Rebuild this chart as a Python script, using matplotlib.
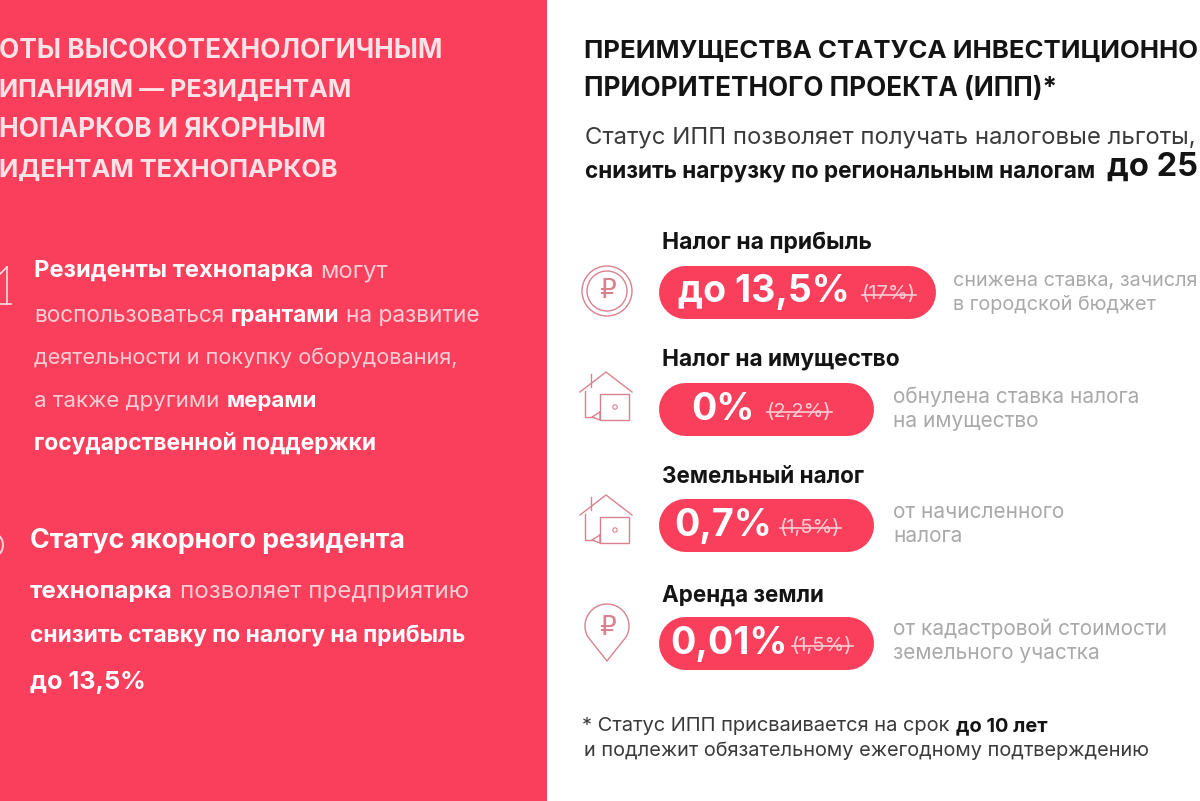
import matplotlib
matplotlib.use("Agg")
import matplotlib.pyplot as plt
from matplotlib.patches import Rectangle, Circle, Arc

RED = "#F93F5B"
PINK_ICON = "#D9818F"
DARK = "#141414"
GREY = "#A9A9A9"
SOFT = "#FBCDD4"

tax_names = ["Налог на прибыль", "Налог на имущество", "Земельный налог", "Аренда земли"]
tax_rates = ["до 13,5%", "0%", "0,7%", "0,01%"]
tax_old = ["(17%)", "(2,2%)", "(1,5%)", "(1,5%)"]
tax_notes = [["снижена ставка, зачисля", "в городской бюджет"],
             ["обнулена ставка налога", "на имущество"],
             ["от начисленного", "налога"],
             ["от кадастровой стоимости", "земельного участка"]]

left_head = ["ОТЫ ВЫСОКОТЕХНОЛОГИЧНЫМ", "ИПАНИЯМ — РЕЗИДЕНТАМ", "НОПАРКОВ И ЯКОРНЫМ", "ИДЕНТАМ ТЕХНОПАРКОВ"]
left_head_y = [49, 88, 128, 168]
left_head_end = [441, 351, 326, 338]

block1 = [[("Резиденты технопарка", True), ("могут", False)],
          [("воспользоваться", False), ("грантами", True), ("на развитие", False)],
          [("деятельности и покупку оборудования,", False)],
          [("а также другими", False), ("мерами", True)],
          [("государственной поддержки", True)]]
block1_y = [269, 314, 356, 399, 441]
block1_end = [388, 482, 459, 317, 377]

block2 = [[("Статус якорного резидента", True)],
          [("технопарка", True), ("позволяет предприятию", False)],
          [("снизить ставку по налогу на прибыль", True)],
          [("до 13,5%", True)]]
block2_y = [539, 590, 634, 681]
block2_end = [407, 470, 468, 146]

fig = plt.figure(figsize=(12, 8.01), dpi=100, facecolor="white")
ax = fig.add_axes([0, 0, 1, 1])
ax.set_xlim(0, 1200)
ax.set_ylim(801, 0)
ax.axis("off")
plt.rcParams["font.family"] = ["Inter", "DejaVu Sans"]
renderer = fig.canvas.get_renderer()


def width_of(t):
    return t.get_window_extent(renderer).width


def line(x, y, segs, size, x_end=None, c_bold="white", c_reg=SOFT):
    # lays out bold and regular pieces one after another, size fitted to x_end
    y = y + 2
    for attempt in range(2):
        arts = []
        cur = x
        for s, bold in segs:
            t = ax.text(cur, y, s, fontsize=size, fontweight="bold" if bold else "normal",
                        color=c_bold if bold else c_reg, va="center", ha="left")
            cur += width_of(t) + size * 0.42
            arts.append(t)
        end = cur - size * 0.42
        if attempt == 0 and x_end is not None:
            size = size * (x_end - x) / (end - x)
            for t in arts:
                t.remove()
        else:
            break
    return end


ax.add_patch(Rectangle((0, 0), 547, 801, color=RED, lw=0))

# left panel
for s, y, e in zip(left_head, left_head_y, left_head_end):
    line(-1, y, [(s, True)], 18, e, c_bold="#FDE3E7")
for segs, y, e in zip(block1, block1_y, block1_end):
    line(34, y, segs, 14, e)
for segs, y, e in zip(block2, block2_y, block2_end):
    line(30, y, segs, 14, e)

# cut off numbers at panel edge
ax.plot([7, 7], [267, 304], color="#FBDDE2", lw=1.2)
ax.plot([0, 11], [304, 304], color="#FBDDE2", lw=1.2)
ax.plot([0, 7], [274, 267], color="#FBDDE2", lw=1.2)
ax.add_patch(Arc((-6, 545), 18, 22, theta1=-60, theta2=60, color="#FBCDD4", lw=1.5))

# right panel heading
line(584, 49, [("ПРЕИМУЩЕСТВА СТАТУСА ИНВЕСТИЦИОННО", True)], 16, 1198, c_bold=DARK)
line(584, 87, [("ПРИОРИТЕТНОГО ПРОЕКТА (ИПП)*", True)], 16, 1058, c_bold=DARK)
line(585, 135, [("Статус ИПП позволяет получать налоговые льготы,", False)], 14, 1197, c_reg="#3A3A3A")
line(585, 169, [("снизить нагрузку по региональным налогам", True)], 14, 1098, c_bold=DARK)
ax.text(1107, 167, "до 25", fontsize=23.5, fontweight="bold", color=DARK, va="center", ha="left")

pill_x = [658, 658, 658, 658]
pill_w = [277, 215, 215, 215]
pill_y = [265, 382, 498, 616]
title_y = [241, 357, 475, 594]
title_end = [872, 900, 864, 824]
note_x = [953, 893, 893, 893]
note_y = [[280, 303], [396, 420], [511, 535], [628, 652]]
note_size = [14.3, 15, 15, 15]
rate_x = [678, 691, 674, 670]
rate_size = [27, 27, 27, 27]
old_x = [862, 767, 780, 792]
pill_h = 53

for i in range(4):
    line(662, title_y[i], [(tax_names[i], True)], 14.5, title_end[i], c_bold=DARK)
    mid = pill_y[i] + pill_h / 2
    # round caps give the pill shape, width in points
    ax.plot([pill_x[i] + pill_h / 2, pill_x[i] + pill_w[i] - pill_h / 2], [mid, mid],
            color=RED, lw=pill_h * 0.72, solid_capstyle="round")
    ax.text(rate_x[i], mid + 1, tax_rates[i], fontsize=rate_size[i], fontweight="bold", color="white", va="center")
    t = ax.text(old_x[i], mid + 3, tax_old[i], fontsize=14.5, color=SOFT, va="center")
    w = width_of(t)
    ax.plot([old_x[i], old_x[i] + w], [mid + 3, mid + 3], color=SOFT, lw=1.2)
    for s, y in zip(tax_notes[i], note_y[i]):
        ax.text(note_x[i], y + 1, s, fontsize=note_size[i], color=GREY, va="center")

# icons
ax.add_patch(Circle((607, 291), 25, fill=False, ec=PINK_ICON, lw=1))
ax.add_patch(Circle((607, 291), 20, fill=False, ec=PINK_ICON, lw=1))
ax.text(607, 291, "₽", family="DejaVu Sans", fontsize=19, color=PINK_ICON, ha="center", va="center")


def house(top):
    ax.plot([580, 606, 632], [top + 20, top, top + 20], color=PINK_ICON, lw=1)
    ax.plot([585, 585, 594], [top + 19, top + 45, top + 45], color=PINK_ICON, lw=1)
    ax.plot([591, 591], [top + 2, top + 15], color=PINK_ICON, lw=1)
    ax.add_patch(Rectangle((600, top + 22), 29, 26, fill=False, ec=PINK_ICON, lw=1))
    ax.plot([600, 592, 600, 600], [top + 40, top + 45, top + 48, top + 40], color=PINK_ICON, lw=1)
    ax.add_patch(Circle((615, top + 35), 2.2, fill=False, ec=PINK_ICON, lw=0.8))


house(372)
house(495)

# pin
ax.add_patch(Arc((607, 626), 44, 44, theta1=150, theta2=30, color=PINK_ICON, lw=1))
ax.plot([588, 607, 626], [637, 661, 637], color=PINK_ICON, lw=1)
ax.text(607, 628, "₽", family="DejaVu Sans", fontsize=19, color=PINK_ICON, ha="center", va="center")

# footnote
line(582, 724, [("* Статус ИПП присваивается на срок", False), ("до 10 лет", True)], 12, 1048, c_bold=DARK, c_reg="#3A3A3A")
line(584, 749, [("и подлежит обязательному ежегодному подтверждению", False)], 12, 1149, c_reg="#3A3A3A")

fig.savefig("out.png", dpi=100)
